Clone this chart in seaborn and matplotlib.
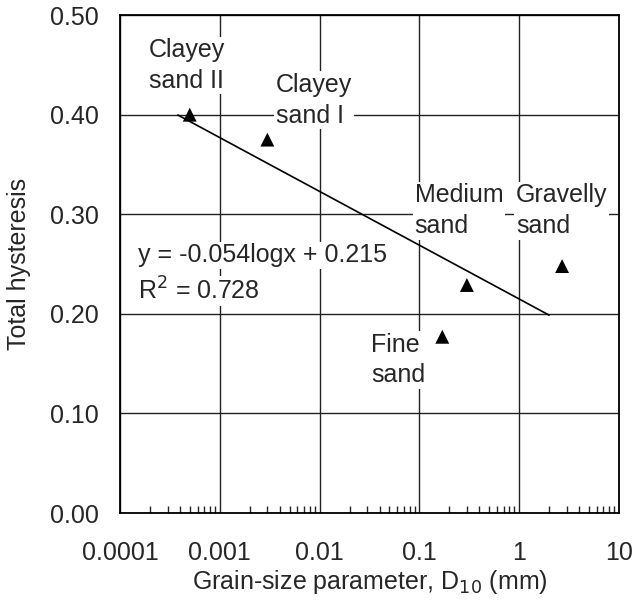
import numpy as np
import matplotlib.pyplot as plt
import seaborn as sns
import pandas as pd

sns.set_style('white')
plt.rcParams['font.family'] = ['Liberation Sans', 'DejaVu Sans']

# soils: D10 (mm) vs total hysteresis
soils = ['Clayey\nsand II', 'Clayey\nsand I', 'Medium\nsand', 'Fine\nsand', 'Gravelly\nsand']
d10 = [0.0005, 0.003, 0.3, 0.17, 2.7]
hyst = [0.400, 0.375, 0.229, 0.177, 0.248]

# fitted line y = -0.054 log x + 0.215
slope = -0.054
intercept = 0.215
fit_x = [0.00038, 2.0]

xticks = [0.0001, 0.001, 0.01, 0.1, 1, 10]
xticklabels = ['0.0001', '0.001', '0.01', '0.1', '1', '10']
yticks = [0.0, 0.1, 0.2, 0.3, 0.4, 0.5]

df = pd.DataFrame({'soil': soils, 'd10': d10, 'hyst': hyst})
fit = pd.DataFrame({'x': fit_x})
fit['y'] = slope * np.log10(fit['x']) + intercept

fig = plt.figure(figsize=(6.33, 6.05), dpi=100)
ax = fig.add_axes([0.1896, 0.152, 0.788, 0.823])

sns.lineplot(x='x', y='y', data=fit, color='black', lw=1.2, ax=ax)
sns.scatterplot(x='d10', y='hyst', data=df, marker='^', color='black',
                s=100, edgecolor='none', ax=ax, zorder=5)

ax.set_xscale('log')
ax.set_xlim(0.0001, 10)
ax.set_ylim(0, 0.5)
ax.set_xticks(xticks)
ax.set_xticklabels(xticklabels)
ax.set_yticks(yticks)
ax.set_yticklabels(['%.2f' % v for v in yticks])
ax.grid(True, which='major', color='#222222', lw=1.0)
ax.set_axisbelow(True)

for s in ax.spines.values():
    s.set_color('black')
    s.set_linewidth(1.3)

ax.tick_params(axis='x', which='major', direction='out', length=8, width=1, labelsize=18, pad=12)
ax.tick_params(axis='x', which='minor', direction='in', length=5, width=1, bottom=True)
ax.tick_params(axis='y', which='major', direction='in', length=0, labelsize=18, pad=15)

ax.set_xlabel('Grain-size parameter, D$_{10}$ (mm)', fontsize=18, labelpad=2)
ax.set_ylabel('Total hysteresis', fontsize=18, labelpad=14)

# label positions (data coords, top-left of text)
lab_x = [0.000195, 0.00366, 0.09, 0.0327, 0.93]
lab_y = [0.477, 0.442, 0.331, 0.181, 0.331]
for name, lx, ly in zip(soils, lab_x, lab_y):
    ax.text(lx, ly, name, fontsize=18, ha='left', va='top', linespacing=1.35,
            bbox=dict(facecolor='white', edgecolor='none', pad=1), zorder=4)

ax.text(0.000151, 0.252, 'y = -0.054logx + 0.215', fontsize=18, ha='left', va='baseline',
        bbox=dict(facecolor='white', edgecolor='none', pad=1), zorder=4)
ax.text(0.000151, 0.214, 'R$^2$ = 0.728', fontsize=18, ha='left', va='baseline',
        bbox=dict(facecolor='white', edgecolor='none', pad=1), zorder=4)

fig.savefig('out.png', dpi=100)
